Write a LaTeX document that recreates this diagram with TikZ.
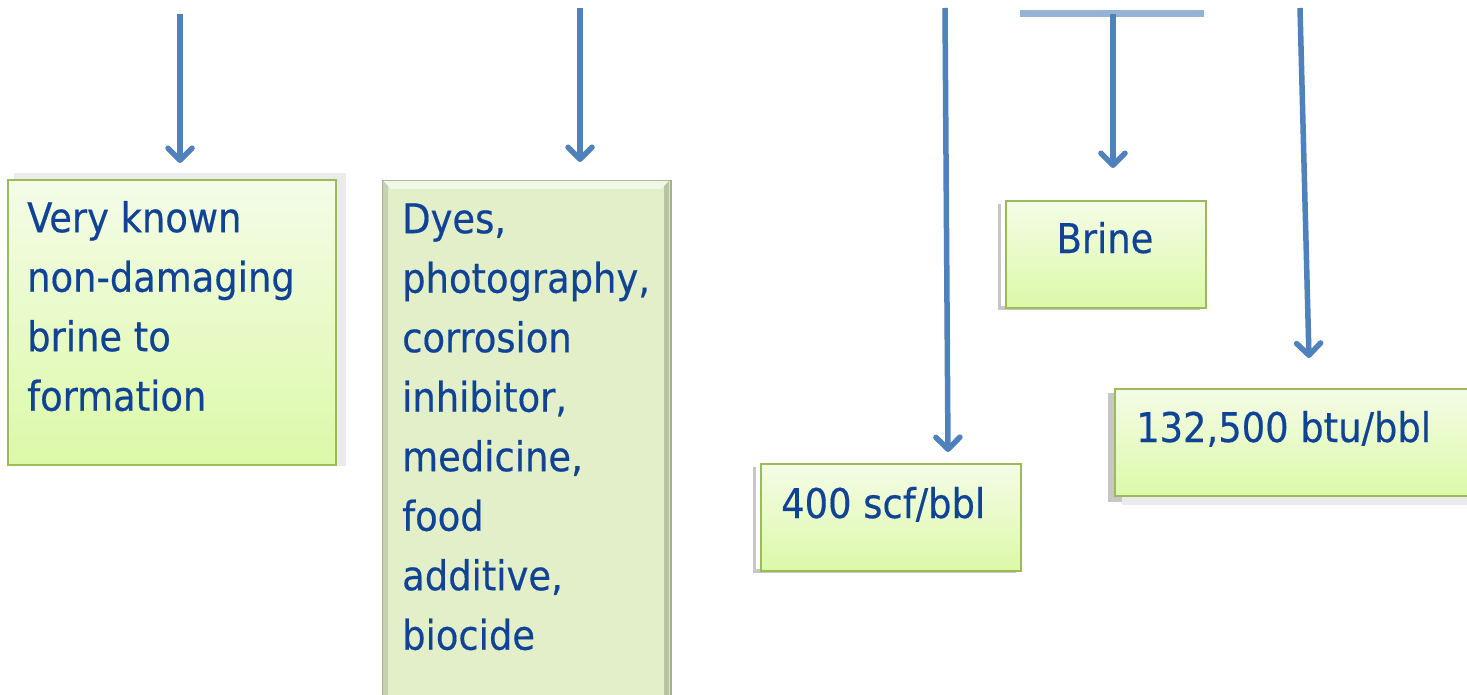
\documentclass[tikz,border=0pt]{standalone}
\usepackage{fontspec}
\setmainfont[FakeBold=0.4]{DejaVu Sans Condensed}
\usetikzlibrary{arrows.meta,calc}
\definecolor{arr}{RGB}{79,129,189}
\definecolor{barc}{RGB}{149,179,215}
\definecolor{txt}{RGB}{16,67,150}
\definecolor{bord}{RGB}{155,187,89}
\definecolor{gtop}{RGB}{244,252,231}
\definecolor{gbot}{RGB}{220,249,168}
\definecolor{flat}{RGB}{226,239,201}
\definecolor{flatbord}{RGB}{165,175,145}
\tikzset{
  conn/.style={draw=arr, line width=5.5pt, -{Straight Barb[length=12pt,width=24pt,round]}},
  greenbox/.style={rectangle, draw=bord, line width=1.8pt, top color=gtop, bottom color=gbot, inner sep=0pt, anchor=north west},
  flatbox/.style={rectangle, draw=flatbord, line width=1.5pt, fill=flat, inner sep=0pt, anchor=north west},
  lbl/.style={text=txt, font=\fontsize{41}{59.5}\selectfont, align=left, inner sep=0pt},
  shad/.style={fill=black!22},
  shadlight/.style={fill=black!8},
}
\begin{document}
\begin{tikzpicture}[x=1pt,y=-1pt]
\useasboundingbox (0,0) rectangle (1467,695);
\fill[white] (0,0) rectangle (1467,695);

% shadows
\fill[shadlight] (14,173) rectangle (346,466);
\fill[shad] (753,467) rectangle (1016,573);
\fill[white] (756,464) rectangle (1018,569);
\fill[shad] (998,204) rectangle (1200,310);
\fill[white] (1001,201) rectangle (1202,306);
\fill[shad] (1108,393) rectangle (1467,502);
\fill[white!92!black] (1122,495) rectangle (1467,505);

% boxes
\node[greenbox, minimum width=328pt, minimum height=285pt] (b1) at (7,179) {};
\node[flatbox, minimum width=288pt, minimum height=530pt] (b2) at (382,180) {};
\fill[white!55!flat] (383,181) -- (669,181) -- (661,189) -- (391,189) -- cycle;
\fill[flat!88!black] (383,181) -- (388,186) -- (388,695) -- (383,695) -- cycle;
\fill[flat!82!black] (669,181) -- (664,186) -- (664,695) -- (669,695) -- cycle;
\node[greenbox, minimum width=260pt, minimum height=107pt] (b3) at (760,463) {};
\node[greenbox, minimum width=200pt, minimum height=107pt] (b4) at (1005,200) {};
\node[greenbox, minimum width=360pt, minimum height=107pt] (b5) at (1114,388) {};

% texts
\node[lbl, anchor=north west] (t1) at (27,192) {\rule{0pt}{40pt}Very known\\non-damaging\\brine to\\formation};
\node[lbl, anchor=north west] (t2) at (402,193) {\rule{0pt}{40pt}Dyes,\\photography,\\corrosion\\inhibitor,\\medicine,\\food\\additive,\\biocide};
\node[lbl, anchor=base west] (t3) at (781,518) {400 scf/bbl};
\node[lbl, anchor=base] (t4) at (1105,253) {Brine};
\node[lbl, anchor=base west] (t5) at (1136,442) {132,500 btu/bbl};

% connectors
\coordinate (s1) at (180,14);
\coordinate (s2) at (580,8);
\coordinate (s3) at (945,8);
\coordinate (e3) at (948,452);
\coordinate (bl) at (1020,14);
\coordinate (br) at (1204,14);
\coordinate (bm) at (1113,14);
\coordinate (s5) at (1300,8);
\coordinate (e5) at (1309,358);

\draw[conn, shorten >=16pt] (s1) -- (s1 |- b1.north);
\draw[conn, shorten >=18pt] (s2) -- (s2 |- b2.north);
\draw[conn] (s3) -- (e3);
\draw[barc, line width=7pt] (bl) -- (br);
\draw[conn, shorten >=32pt] (bm) -- (bm |- b4.north);
\draw[conn] (s5) -- (e5);
\end{tikzpicture}
\end{document}
